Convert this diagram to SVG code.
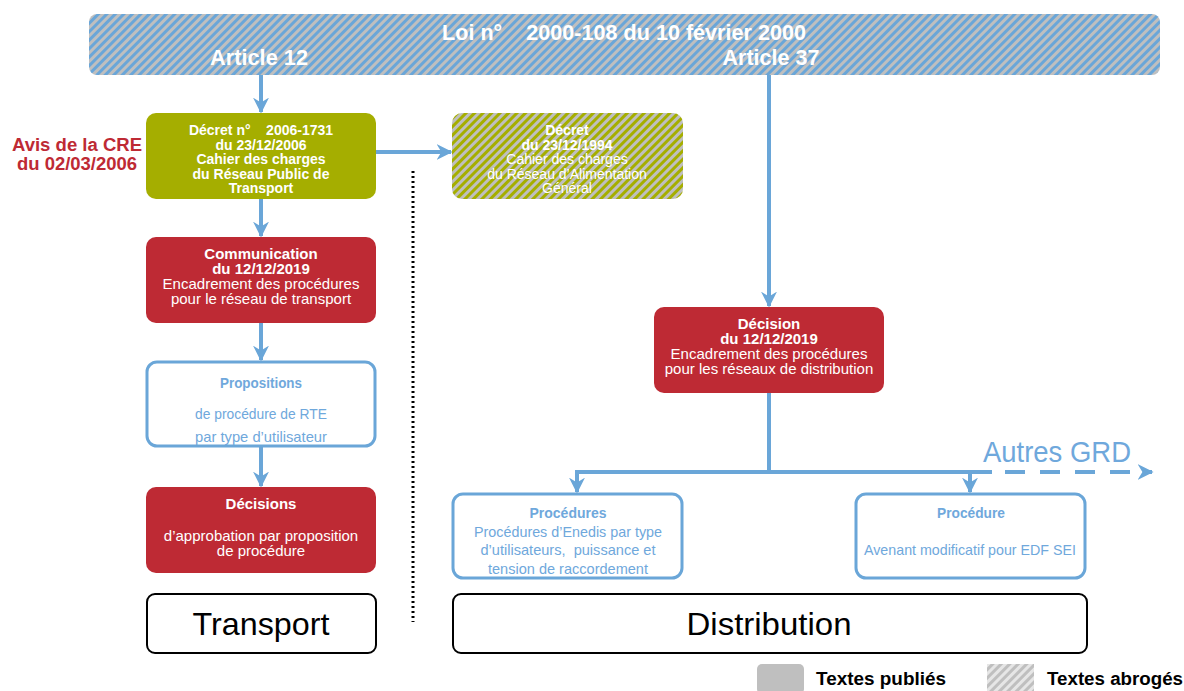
<svg xmlns="http://www.w3.org/2000/svg" width="1184" height="691" viewBox="0 0 1184 691">
<style>
.t{font-family:"Liberation Sans",Arial,sans-serif;text-anchor:middle}
.n{font-family:"Liberation Sans",Arial,sans-serif;text-anchor:middle}
.w{fill:#fff;font-size:15px}
.s{font-size:14px}
.b{font-weight:bold}
.bl{fill:#6FA8DC;font-size:15px}
.con{stroke:#6AA6D8;stroke-width:4;fill:none}
.red{fill:#BE2A34}
.box{fill:#fff;stroke:#6AA6D8;stroke-width:3}
.sec{fill:#fff;stroke:#000;stroke-width:2}
</style>
<defs>
<pattern id="hBlue" width="6" height="6" patternUnits="userSpaceOnUse" patternTransform="rotate(45)">
<rect width="6" height="6" fill="#BFBFBF"/><rect width="3" height="6" fill="#6AA6D8"/>
</pattern>
<pattern id="hOlive" width="6" height="6" patternUnits="userSpaceOnUse" patternTransform="rotate(45)">
<rect width="6" height="6" fill="#BFBFBF"/><rect width="3" height="6" fill="#A5AE00"/>
</pattern>
<pattern id="hGray" width="6" height="6" patternUnits="userSpaceOnUse" patternTransform="rotate(45)">
<rect width="6" height="6" fill="#E6E6E6"/><rect width="3" height="6" fill="#BFBFBF"/>
</pattern>
<marker id="ah" viewBox="0 0 10 10" refX="9" refY="5" markerWidth="4" markerHeight="4" orient="auto" markerUnits="strokeWidth">
<path d="M0,0 L10,5 L0,10 L3,5 Z" fill="#6AA6D8"/>
</marker>
</defs>

<g id="loi">
<rect x="89" y="14" width="1071" height="61" rx="8" fill="url(#hBlue)"/>
<text class="n b" x="624" y="40" fill="#fff" font-size="22" textLength="364" lengthAdjust="spacingAndGlyphs">Loi n°&#160;&#160;&#160;&#160;2000-108 du 10 février 2000</text>
<text class="n b" x="259" y="65" fill="#fff" font-size="22" textLength="98" lengthAdjust="spacingAndGlyphs">Article 12</text>
<text class="n b" x="771" y="65" fill="#fff" font-size="22" textLength="97" lengthAdjust="spacingAndGlyphs">Article 37</text>
</g>

<g id="connectors">
<line class="con" x1="261" y1="75" x2="261" y2="112" marker-end="url(#ah)"/>
<line class="con" x1="376" y1="152" x2="451" y2="152" marker-end="url(#ah)"/>
<line class="con" x1="261" y1="199" x2="261" y2="236" marker-end="url(#ah)"/>
<line class="con" x1="261" y1="323" x2="261" y2="360" marker-end="url(#ah)"/>
<line class="con" x1="261" y1="447" x2="261" y2="486" marker-end="url(#ah)"/>
<line class="con" x1="769" y1="75" x2="769" y2="306" marker-end="url(#ah)"/>
<line class="con" x1="769" y1="393" x2="769" y2="472"/>
<polyline class="con" points="577,480 577,472 992,472"/>
<line class="con" x1="577" y1="472" x2="577" y2="492" marker-end="url(#ah)"/>
<line class="con" x1="970" y1="472" x2="970" y2="492" marker-end="url(#ah)"/>
<line class="con" x1="1005" y1="472" x2="1152" y2="472" stroke-dasharray="20,15" marker-end="url(#ah)"/>
<line x1="413" y1="171" x2="413" y2="622" stroke="#000" stroke-width="3" stroke-dasharray="2,3"/>
</g>

<g id="avis">
<text class="t b" x="77" y="151" fill="#BE2A34" font-size="17.5" textLength="130" lengthAdjust="spacingAndGlyphs">Avis de la CRE</text>
<text class="t b" x="77" y="170" fill="#BE2A34" font-size="17.5" textLength="120" lengthAdjust="spacingAndGlyphs">du 02/03/2006</text>
</g>

<g id="decret2006">
<rect x="146" y="113" width="230" height="86" rx="10" fill="#A5AE00"/>
<text class="t w s b" x="261" y="135">Décret n°&#160;&#160;&#160;&#160;2006-1731</text>
<text class="t w s b" x="261" y="150">du 23/12/2006</text>
<text class="t w s b" x="261" y="164">Cahier des charges</text>
<text class="t w s b" x="261" y="179">du Réseau Public de</text>
<text class="t w s b" x="261" y="193">Transport</text>
</g>

<g id="decret1994">
<rect x="452" y="113" width="231" height="86" rx="10" fill="url(#hOlive)"/>
<text class="t w s b" x="567" y="135">Décret</text>
<text class="t w s b" x="567" y="150">du 23/12/1994</text>
<text class="t w s" x="567" y="164">Cahier des charges</text>
<text class="t w s" x="567" y="179">du Réseau d’Alimentation</text>
<text class="t w s" x="567" y="193">Général</text>
</g>

<g id="communication">
<rect class="red" x="146" y="237" width="230" height="86" rx="10"/>
<text class="t w b" x="261" y="259">Communication</text>
<text class="t w b" x="261" y="274">du 12/12/2019</text>
<text class="t w" x="261" y="289">Encadrement des procédures</text>
<text class="t w" x="261" y="304">pour le réseau de transport</text>
</g>

<g id="propositions">
<rect class="box" x="147" y="362" width="228" height="84" rx="10"/>
<text class="n bl b" x="261" y="388" textLength="82" lengthAdjust="spacingAndGlyphs">Propositions</text>
<text class="n bl" x="261" y="419" textLength="132" lengthAdjust="spacingAndGlyphs">de procédure de RTE</text>
<text class="n bl" x="261" y="442" textLength="132" lengthAdjust="spacingAndGlyphs">par type d’utilisateur</text>
</g>

<g id="decisions">
<rect class="red" x="146" y="487" width="230" height="86" rx="10"/>
<text class="t w b" x="261" y="509">Décisions</text>
<text class="t w" x="261" y="541">d’approbation par proposition</text>
<text class="t w" x="261" y="556">de procédure</text>
</g>

<g id="decision">
<rect class="red" x="654" y="307" width="230" height="86" rx="10"/>
<text class="t w b" x="769" y="329">Décision</text>
<text class="t w b" x="769" y="344">du 12/12/2019</text>
<text class="t w" x="769" y="359">Encadrement des procédures</text>
<text class="t w" x="769" y="374">pour les réseaux de distribution</text>
</g>

<g id="autres">
<text class="n" x="1057" y="462" fill="#6FA8DC" font-size="29" textLength="148" lengthAdjust="spacingAndGlyphs">Autres GRD</text>
</g>

<g id="procedures">
<rect class="box" x="453" y="494" width="229" height="84" rx="10"/>
<text class="n bl b" x="568" y="518" textLength="77" lengthAdjust="spacingAndGlyphs">Procédures</text>
<text class="n bl" x="568" y="537" textLength="188" lengthAdjust="spacingAndGlyphs">Procédures d’Enedis par type</text>
<text class="n bl" x="568" y="555" textLength="175" lengthAdjust="spacingAndGlyphs">d’utilisateurs,&#160; puissance et</text>
<text class="n bl" x="568" y="574" textLength="160" lengthAdjust="spacingAndGlyphs">tension de raccordement</text>
</g>

<g id="procedure">
<rect class="box" x="856" y="494" width="229" height="84" rx="10"/>
<text class="n bl b" x="971" y="518" textLength="68" lengthAdjust="spacingAndGlyphs">Procédure</text>
<text class="n bl" x="970" y="555" textLength="212" lengthAdjust="spacingAndGlyphs">Avenant modificatif pour EDF SEI</text>
</g>

<g id="transport">
<rect class="sec" x="147" y="594" width="229" height="59" rx="8"/>
<text class="n" x="261" y="635" font-size="32" fill="#000" textLength="137" lengthAdjust="spacingAndGlyphs">Transport</text>
</g>

<g id="distribution">
<rect class="sec" x="453" y="594" width="634" height="59" rx="8"/>
<text class="n" x="769" y="635" font-size="32" fill="#000" textLength="165" lengthAdjust="spacingAndGlyphs">Distribution</text>
</g>

<g id="legend">
<rect x="757" y="664" width="47" height="30" rx="5" fill="#BFBFBF"/>
<text class="n b" x="816" y="685" font-size="18" fill="#000" style="text-anchor:start" textLength="130" lengthAdjust="spacingAndGlyphs">Textes publiés</text>
<rect x="987" y="664" width="47" height="30" fill="url(#hGray)"/>
<text class="n b" x="1047" y="685" font-size="18" fill="#000" style="text-anchor:start" textLength="136" lengthAdjust="spacingAndGlyphs">Textes abrogés</text>
</g>
</svg>
